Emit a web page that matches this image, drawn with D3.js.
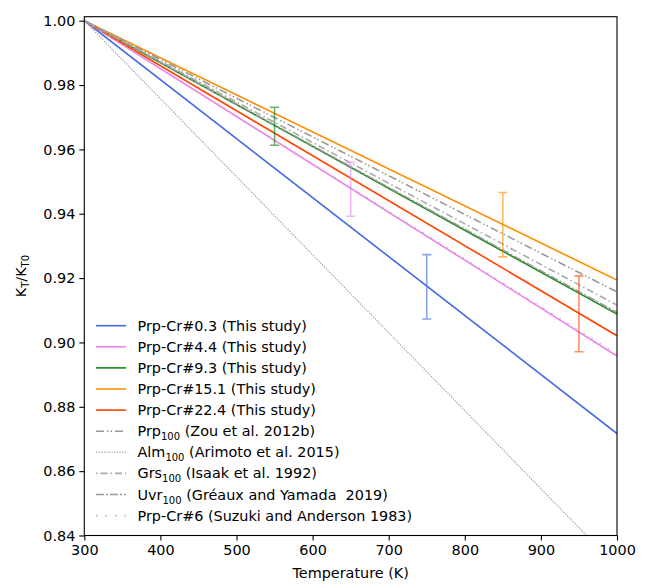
<!DOCTYPE html>
<html>
<head>
<meta charset="utf-8">
<script src="https://cdn.jsdelivr.net/npm/d3@7"></script>
<style>
  body { margin: 0; background: #fff; }
  text { font-family: "DejaVu Sans", sans-serif; white-space: pre; }
</style>
</head>
<body>
<div id="chart"></div>
<script>
// dados
var temps = [300, 1000];
var names = [
  "Prp-Cr#0.3 (This study)",
  "Prp-Cr#4.4 (This study)",
  "Prp-Cr#9.3 (This study)",
  "Prp-Cr#15.1 (This study)",
  "Prp-Cr#22.4 (This study)",
  ["Prp", "100", " (Zou et al. 2012b)"],
  ["Alm", "100", " (Arimoto et al. 2015)"],
  ["Grs", "100", " (Isaak et al. 1992)"],
  ["Uvr", "100", " (Gréaux and Yamada  2019)"],
  "Prp-Cr#6 (Suzuki and Anderson 1983)"
];
var cr03 = [1.0, 0.8717];
var cr44 = [1.0, 0.8958];
var cr93 = [1.0, 0.9088];
var cr151 = [1.0, 0.9194];
var cr224 = [1.0, 0.9021];
var prp100 = [1.0, 0.9157];
var alm100 = [1.0, 0.8303];
var grs100 = [1.0, 0.9116];
var uvr100 = [1.0, 0.9093];
var suzuki = [1.0, 0.8963];

// barras de erro
var errT = [550, 650, 750, 850, 950];
var errMid = [0.9672, 0.9476, 0.9173, 0.9366, 0.9089];
var errSize = [0.0059, 0.0084, 0.0100, 0.0100, 0.0118];
var errColor = ["green", "violet", "royalblue", "darkorange", "orangered"];

var yTicks = [0.84, 0.86, 0.88, 0.90, 0.92, 0.94, 0.96, 0.98, 1.00];
var xTicks = [300, 400, 500, 600, 700, 800, 900, 1000];

var series = [
  { v: cr03, color: "royalblue", dash: null, w: 1.6 },
  { v: cr44, color: "violet", dash: null, w: 1.6 },
  { v: cr93, color: "#1a8a1a", dash: null, w: 1.6 },
  { v: cr151, color: "darkorange", dash: null, w: 1.6 },
  { v: cr224, color: "orangered", dash: null, w: 1.6 },
  { v: prp100, color: "#999", dash: "8,3,1.5,2,1.5,3", w: 1.6 },
  { v: alm100, color: "#999", dash: "1.3,1.3", w: 1.1 },
  { v: grs100, color: "#aaa", dash: "1.5,3,7,3", w: 1.6 },
  { v: uvr100, color: "#999", dash: "8,2,2,2", w: 1.6 },
  { v: suzuki, color: "#bbb", dash: "1.5,8", w: 1.6 }
];

var svgWidth = 646, svgHeight = 584;
var mLeft = 84.3, mRight = 617, mTop = 16.7, mBottom = 535.5;
var fs = 14.4;

var svg = d3.select("#chart").append("svg")
  .attr("width", svgWidth)
  .attr("height", svgHeight);

var x = d3.scaleLinear().domain([300, 1000]).range([mLeft, mRight]);
var y = d3.scaleLinear().domain([0.84, 1.00124]).range([mBottom, mTop]);

svg.append("clipPath").attr("id", "clip")
  .append("rect")
  .attr("x", mLeft).attr("y", mTop)
  .attr("width", mRight - mLeft).attr("height", mBottom - mTop);

var plot = svg.append("g").attr("clip-path", "url(#clip)");

var line = d3.line()
  .x(function (d) { return x(d[0]); })
  .y(function (d) { return y(d[1]); });

series.forEach(function (s) {
  var pts = temps.map(function (t, i) { return [t, s.v[i]]; });
  plot.append("path")
    .attr("fill", "none")
    .attr("stroke", s.color)
    .attr("stroke-width", s.w)
    .attr("stroke-dasharray", s.dash)
    .attr("d", line(pts));
});

// error bars
var eb = plot.append("g").attr("opacity", 0.6);
errT.forEach(function (t, i) {
  var px = x(t);
  var y1 = y(errMid[i] + errSize[i]), y2 = y(errMid[i] - errSize[i]);
  eb.append("path")
    .attr("fill", "none")
    .attr("stroke", errColor[i])
    .attr("stroke-width", 1.6)
    .attr("d", "M" + px + "," + y1 + "V" + y2 +
      "M" + (px - 4.5) + "," + y1 + "H" + (px + 4.5) +
      "M" + (px - 4.5) + "," + y2 + "H" + (px + 4.5));
});

// eixos
var xAxis = svg.append("g")
  .attr("transform", "translate(0," + mBottom + ")")
  .call(d3.axisBottom(x).tickValues(xTicks).tickSize(5).tickPadding(4).tickFormat(d3.format("d")));
var yAxis = svg.append("g")
  .attr("transform", "translate(" + mLeft + ",0)")
  .call(d3.axisLeft(y).tickValues(yTicks).tickSize(5).tickPadding(4).tickFormat(d3.format(".2f")));

[xAxis, yAxis].forEach(function (a) {
  a.select(".domain").remove();
  a.selectAll("text").attr("font-size", fs).attr("fill", "#000")
    .style("font-family", "DejaVu Sans");
  a.selectAll("line").attr("stroke", "#000").attr("stroke-width", 1.1);
});

svg.append("rect")
  .attr("x", mLeft).attr("y", mTop)
  .attr("width", mRight - mLeft).attr("height", mBottom - mTop)
  .attr("fill", "none")
  .attr("stroke", "#000")
  .attr("stroke-width", 1.1);

svg.append("text")
  .attr("x", (mLeft + mRight) / 2)
  .attr("y", 578)
  .attr("text-anchor", "middle")
  .attr("font-size", fs)
  .text("Temperature (K)");

var yl = svg.append("text")
  .attr("transform", "translate(26," + ((mTop + mBottom) / 2) + ") rotate(-90)")
  .attr("text-anchor", "middle")
  .attr("font-size", fs);
yl.append("tspan").text("K");
yl.append("tspan").attr("font-size", 10).attr("dy", 3).text("T");
yl.append("tspan").attr("dy", -3).text("/K");
yl.append("tspan").attr("font-size", 10).attr("dy", 3).text("T0");

// legenda
var leg = svg.append("g");
series.forEach(function (s, i) {
  var ly = 325.7 + i * 21.1;
  leg.append("line")
    .attr("x1", 96).attr("x2", 126)
    .attr("y1", ly).attr("y2", ly)
    .attr("stroke", s.color)
    .attr("stroke-width", s.w)
    .attr("stroke-dasharray", s.dash);
  var t = leg.append("text")
    .attr("x", 137.5).attr("y", ly + 5)
    .attr("font-size", fs);
  var n = names[i];
  if (typeof n === "string") {
    t.text(n);
  } else {
    t.append("tspan").text(n[0]);
    t.append("tspan").attr("font-size", 10).attr("dy", 4).text(n[1]);
    t.append("tspan").attr("dy", -4).text(n[2]);
  }
});
</script>
</body>
</html>
